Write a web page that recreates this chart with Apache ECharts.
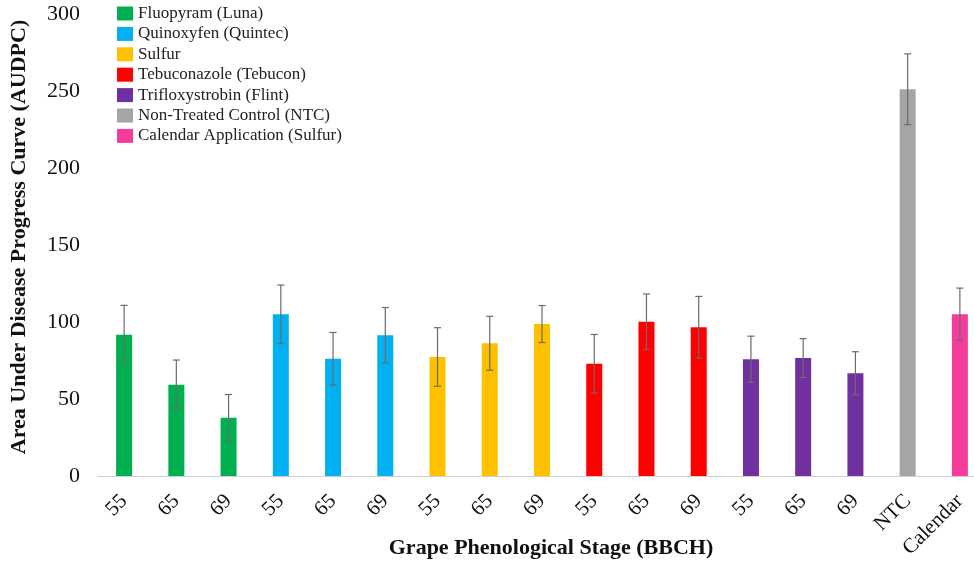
<!DOCTYPE html>
<html><head><meta charset="utf-8">
<script src="https://cdn.jsdelivr.net/npm/echarts@6/dist/echarts.min.js"></script>
<style>html,body{margin:0;padding:0;background:#fff}#c{width:974px;height:562px}</style>
</head><body><div id="c"></div>
<script>
const categories = ['Luna 55','Luna 65','Luna 69','Quintec 55','Quintec 65','Quintec 69','Sulfur 55','Sulfur 65','Sulfur 69','Tebucon 55','Tebucon 65','Tebucon 69','Flint 55','Flint 65','Flint 69','NTC','Calendar'];
const tickLabels = ['55','65','69','55','65','69','55','65','69','55','65','69','55','65','69','NTC','Calendar'];
const seriesNames = ['Fluopyram (Luna)','Quinoxyfen (Quintec)','Sulfur','Tebuconazole (Tebucon)','Trifloxystrobin (Flint)','Non-Treated Control (NTC)','Calendar Application (Sulfur)'];
const seriesColors = ['#00B050','#00B0F0','#FFC000','#FF0000','#7030A0','#A5A5A5','#F43C9B'];
const groupOf = [0,0,0,1,1,1,2,2,2,3,3,3,4,4,4,5,6];
const values = [91.8,59.3,37.9,105,76.2,91.4,77.3,86.2,98.7,72.9,100.2,96.6,75.8,76.6,66.7,251.1,105];
const errors = [19,16,15,19,17,18,19,17.5,12,19,18,20,15,12.6,14,23,17];
const yTicks = [0,50,100,150,200,250,300];
const xTitle = 'Grape Phenological Stage (BBCH)';
const yTitle = 'Area Under Disease Progress Curve (AUDPC)';

const series = seriesNames.map((name, g) => ({
  name, type: 'bar', stack: 'all', barWidth: 16,
  itemStyle: { color: seriesColors[g] },
  data: values.map((v, i) => groupOf[i] === g ? v : null)
}));
series.push({
  type: 'custom', name: 'err', z: 10,
  data: values.map((v, i) => [i, v - errors[i], v + errors[i]]),
  renderItem: function (params, api) {
    const x = api.value(0);
    const lo = api.coord([x, api.value(1)]);
    const hi = api.coord([x, api.value(2)]);
    const cw = 3.5;
    const st = { stroke: '#6b6b6b', lineWidth: 1.2 };
    return { type: 'group', children: [
      { type: 'line', shape: { x1: lo[0], y1: lo[1], x2: hi[0], y2: hi[1] }, style: st },
      { type: 'line', shape: { x1: lo[0]-cw, y1: lo[1], x2: lo[0]+cw, y2: lo[1] }, style: st },
      { type: 'line', shape: { x1: hi[0]-cw, y1: hi[1], x2: hi[0]+cw, y2: hi[1] }, style: st }
    ]};
  }
});

const chart = echarts.init(document.getElementById('c'));
chart.setOption({
  animation: false,
  textStyle: { fontFamily: 'Liberation Serif' },
  grid: { left: 98, right: -12, top: 14, bottom: 86, containLabel: false, outerBoundsMode: 'none' },
  legend: {
    data: seriesNames, orient: 'vertical', left: 117, top: 5, padding: 0,
    itemWidth: 16, itemHeight: 14, itemGap: 3.4,
    icon: 'rect',
    textStyle: { fontFamily: 'Liberation Serif', fontSize: 17, lineHeight: 17, color: '#222' }
  },
  graphic: [
    { type: 'text', x: 551, y: 548, style: { text: xTitle, font: 'bold 22px "Liberation Serif"', fill: '#111', textAlign: 'center', textVerticalAlign: 'middle' } },
    { type: 'text', x: 19, y: 237, rotation: Math.PI / 2, style: { text: yTitle, font: 'bold 22px "Liberation Serif"', fill: '#111', textAlign: 'center', textVerticalAlign: 'middle' } }
  ],
  xAxis: {
    type: 'category', data: categories,
    axisLine: { lineStyle: { color: '#d0d0d0', width: 1.2 } },
    axisTick: { show: false },
    axisLabel: { rotate: 45, interval: 0, margin: 22, fontSize: 21, color: '#111', fontFamily: 'Liberation Serif',
      formatter: (v, i) => tickLabels[i] }
  },
  yAxis: {
    type: 'value', min: yTicks[0], max: yTicks[yTicks.length-1], interval: 50,
    axisLine: { show: false }, axisTick: { show: false }, splitLine: { show: false },
    axisLabel: { fontSize: 22, color: '#111', margin: 18, fontFamily: 'Liberation Serif' }
  },
  series
});
</script></body></html>
